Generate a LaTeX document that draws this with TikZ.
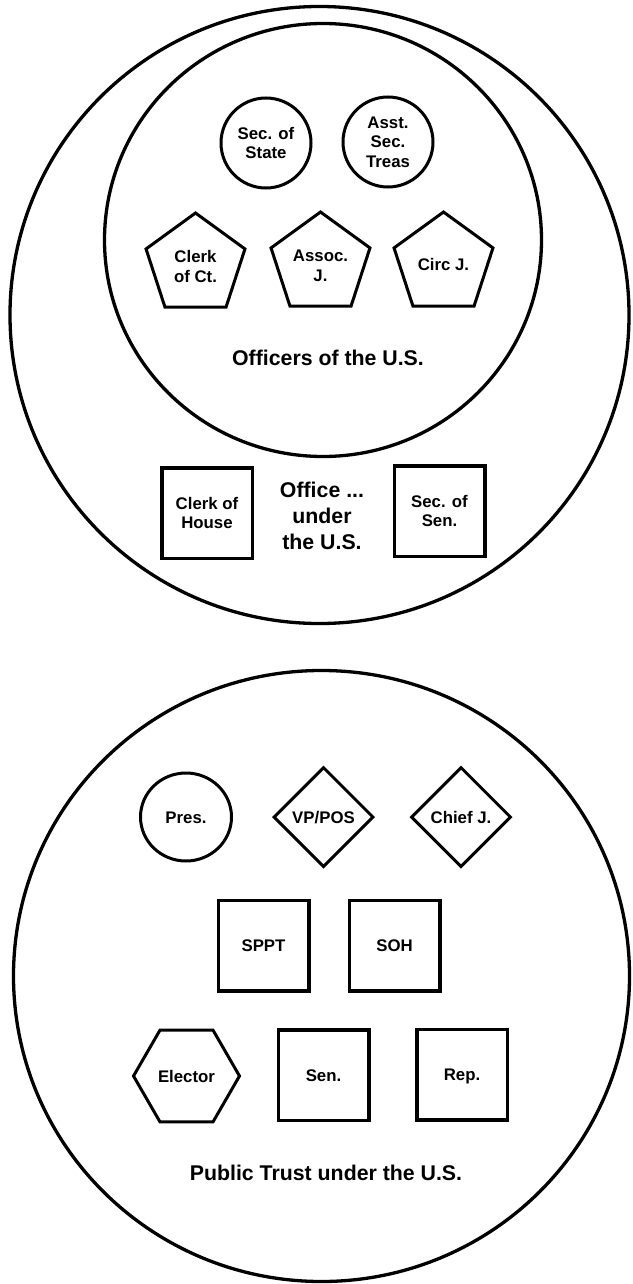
\documentclass[tikz,border=0pt]{standalone}
\usepackage{fontspec}
\setmainfont{Liberation Sans}
\usetikzlibrary{shapes.geometric}

% two centred lines, drawn a little lower than the node centre
\newcommand{\lowpair}[2]{\raisebox{-3.5pt}[\height][\depth]{\begin{tabular}{@{}c@{}}#1\\#2\end{tabular}}}

\begin{document}
\begin{tikzpicture}[x=1pt, y=-1pt,
  lbl/.style={font=\bfseries\fontsize{16.8}{19.5}\selectfont, align=center, text=black, inner sep=0pt},
  biglbl/.style={font=\bfseries\fontsize{21.3}{26}\selectfont, align=center, text=black, inner sep=0pt},
  oneline/.style={text height=12pt, text depth=0pt},
  ring/.style={draw=black, line width=3.3pt},
  shapeline/.style={draw=black, line width=3pt, lbl, line join=miter},
  roundnode/.style={shapeline, ellipse, minimum width=90pt, minimum height=90pt},
  pentnode/.style={shapeline, regular polygon, regular polygon sides=5, minimum size=104pt},
  hexnode/.style={shapeline, regular polygon, regular polygon sides=6, minimum size=106pt},
  diamnode/.style={shapeline, diamond, minimum width=100pt, minimum height=100pt},
  boxnode/.style={shapeline, rectangle, line width=3.5pt, minimum width=90.5pt, minimum height=90.5pt}
]
\useasboundingbox (0,0) rectangle (632,1284);
\fill[white] (0,0) rectangle (632,1284);

% ---- Office under the U.S. (outer) with Officers of the U.S. (inner)
\draw[ring] (319.5,315) ellipse [x radius=309.5pt, y radius=308.5pt];
\draw[ring] (323,240) ellipse [x radius=218.5pt, y radius=216.5pt];

\node[roundnode] (secstate) at (266,143) {Sec. of\\State};
\node[roundnode] (asst) at (388,142) {Asst.\\Sec.\\Treas};

\node[pentnode] (clerkct) at (195.5,265) {\lowpair{Clerk}{of Ct.}};
\node[pentnode] (assoc) at (320.5,264) {\lowpair{Assoc.}{J.}};
\node[pentnode, oneline] (circ) at (443.5,264) {Circ J.};

\node[biglbl] (officers) at (328,358) {Officers of the U.S.};

\node[boxnode] (clerkhouse) at (207,513) {Clerk of\\House};
\node[boxnode] (secsen) at (439.5,511) {Sec. of\\Sen.};
\node[biglbl] (office) at (322,516) {Office ...\\under\\the U.S.};

% ---- Public Trust under the U.S.
\draw[ring] (321.5,976) ellipse [x radius=308pt, y radius=305.5pt];

\node[shapeline, oneline, ellipse, minimum width=91pt, minimum height=88pt] (pres) at (186,817) {Pres.};
\node[diamnode, oneline] (vp) at (323.5,817) {VP/POS};
\node[diamnode, oneline] (chief) at (461,817) {Chief J.};

\node[boxnode, oneline] (sppt) at (263.5,945.5) {SPPT};
\node[boxnode, oneline] (soh) at (394.5,945.5) {SOH};

\node[hexnode, oneline] (elector) at (186.5,1076) {Elector};
\node[boxnode, oneline] (sen) at (323.5,1075) {Sen.};
\node[boxnode, oneline] (rep) at (462,1074.5) {Rep.};

\node[biglbl] (trust) at (326,1173) {Public Trust under the U.S.};
\end{tikzpicture}
\end{document}
